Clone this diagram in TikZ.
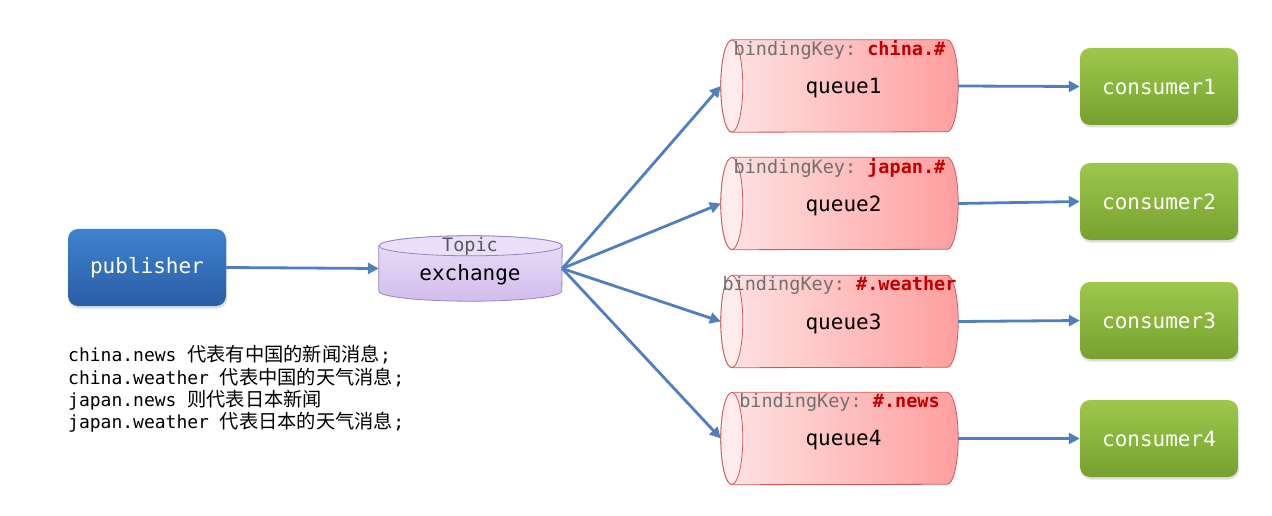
\documentclass[tikz,border=0pt]{standalone}
\usepackage{fontspec}
\setmonofont{DejaVu Sans Mono}
\newfontfamily\cjk[Scale=1.07]{Noto Sans CJK SC}
\usetikzlibrary{arrows.meta,shadows}
\definecolor{arrowblue}{HTML}{4F7FBF}
\definecolor{pubtop}{HTML}{3E82CF}
\definecolor{pubbot}{HTML}{2B5EA5}
\definecolor{contop}{HTML}{9DC84C}
\definecolor{conbot}{HTML}{76A12F}
\definecolor{qleft}{HTML}{FDE4E4}
\definecolor{qright}{HTML}{FF9E9E}
\definecolor{qborder}{HTML}{C85A5A}
\definecolor{extop}{HTML}{EADFF8}
\definecolor{exbot}{HTML}{D2BDEC}
\definecolor{exborder}{HTML}{9A83C0}
\definecolor{keyred}{HTML}{C00000}
\definecolor{keygray}{HTML}{707070}
\tikzset{
  arr/.style={draw=arrowblue, line width=2.8pt, -{Triangle[length=11pt,width=11pt]}},
  boxbase/.style={rounded corners=10pt, minimum width=158pt, minimum height=77pt, inner sep=0pt,
    text=white, font=\ttfamily\fontsize{21}{24}\selectfont,
    drop shadow={opacity=0.25, shadow xshift=1pt, shadow yshift=-2.5pt}},
  pubbox/.style={boxbase, top color=pubtop, bottom color=pubbot},
  conbox/.style={boxbase, top color=contop, bottom color=conbot},
  qarea/.style={minimum width=237pt, minimum height=92pt, inner sep=0pt},
  qbody/.style={draw=qborder, line width=0.8pt, left color=qleft, right color=qright},
  qface/.style={draw=qborder, line width=0.8pt, fill=qleft!70!white},
  keytext/.style={font=\ttfamily\fontsize{18.5}{20}\selectfont, text=keygray, inner sep=0pt},
  qtext/.style={font=\ttfamily\fontsize{21}{24}\selectfont, text=black, inner sep=0pt},
  note/.style={font=\ttfamily\fontsize{18}{22}\selectfont, anchor=west, inner sep=0pt},
}
\begin{document}
\begin{tikzpicture}[x=1pt,y=1pt]
\useasboundingbox (0,0) rectangle (1272,515);
% publisher
\node[pubbox] (pub) at (147,247.5) {publisher};
% exchange
\node[minimum width=183pt, minimum height=65pt, inner sep=0pt] (ex) at (470.5,246.5) {};
\path[draw=exborder, line width=0.8pt, top color=extop, bottom color=exbot]
  ([yshift=-10pt]ex.north west) -- ([yshift=10pt]ex.south west)
  arc[start angle=180, end angle=360, x radius=91.5pt, y radius=10pt]
  -- ([yshift=-10pt]ex.north east)
  arc[start angle=0, end angle=180, x radius=91.5pt, y radius=10pt] -- cycle;
\draw[exborder, line width=0.8pt, fill=extop] ([yshift=-10pt]ex.north) ellipse[x radius=91.5pt, y radius=10pt];
\node[keytext, text=black!65] (topic) at (470,269) {Topic};
\node[qtext] (exlbl) at (470,240) {exchange};
% queues
\foreach \n/\y/\key in {1/429/china.\#, 2/311.5/japan.\#, 3/193.5/\#.weather, 4/76.5/\#.news}{
  \node[qarea] (q\n) at (839.5,\y) {};
  \path[qbody] ([xshift=11pt]q\n.north west) -- ([xshift=-11pt]q\n.north east)
    arc[start angle=90, end angle=-90, x radius=11pt, y radius=46pt]
    -- ([xshift=11pt]q\n.south west)
    arc[start angle=270, end angle=90, x radius=11pt, y radius=46pt] -- cycle;
  \draw[qface] ([xshift=11pt]q\n.west) ellipse[x radius=11pt, y radius=46pt];
  \node[keytext] (k\n) at ([yshift=36pt]q\n.center) {bindingKey: \textcolor{keyred}{\bfseries\key}};
  \node[qtext] (ql\n) at ([xshift=4pt,yshift=-2pt]q\n.center) {queue\n};
}
% consumers
\node[conbox] (c1) at (1159,428.5) {consumer1};
\node[conbox] (c2) at (1159,313.5) {consumer2};
\node[conbox] (c3) at (1159,194.5) {consumer3};
\node[conbox] (c4) at (1159,76.5) {consumer4};
% connectors
\draw[arr] (pub.east) -- (ex.west);
\foreach \n in {1,2,3,4}{
  \draw[arr] (ex.east) -- (q\n.west);
  \draw[arr] (q\n.east) -- (c\n.west);
}
% notes
\node[note] (n1) at (68,160) {china.news {\cjk 代表有中国的新闻消息};};
\node[note] (n2) at (68,137) {china.weather {\cjk 代表中国的天气消息};};
\node[note] (n3) at (68,115) {japan.news {\cjk 则代表日本新闻}};
\node[note] (n4) at (68,93) {japan.weather {\cjk 代表日本的天气消息};};
\end{tikzpicture}
\end{document}
